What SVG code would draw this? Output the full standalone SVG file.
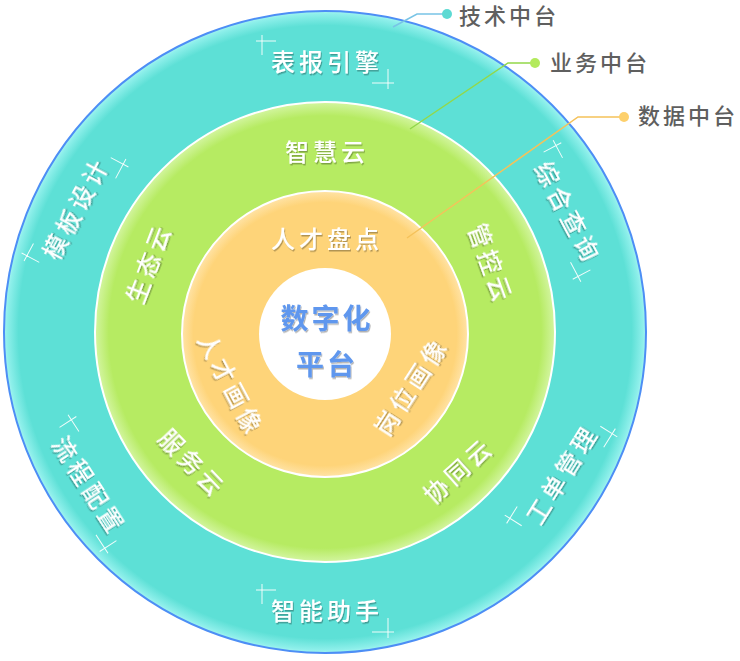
<svg xmlns="http://www.w3.org/2000/svg" width="740" height="661" viewBox="0 0 740 661">
<defs>
  <radialGradient id="gTeal" cx="50%" cy="50%" r="50%">
    <stop offset="0.955" stop-color="#5DE0D6"/>
    <stop offset="0.99" stop-color="#8DEFEA"/>
    <stop offset="1" stop-color="#A4F5F0"/>
  </radialGradient>
  <radialGradient id="gGreen" cx="50%" cy="50%" r="50%">
    <stop offset="0.94" stop-color="#B6EB62"/>
    <stop offset="1" stop-color="#D3F5A0"/>
  </radialGradient>
  <radialGradient id="gOrange" cx="50%" cy="50%" r="50%">
    <stop offset="0.92" stop-color="#FED479"/>
    <stop offset="1" stop-color="#FFE3A6"/>
  </radialGradient>
  <filter id="sh" x="-20%" y="-40%" width="140%" height="180%">
    <feDropShadow dx="1" dy="1.5" stdDeviation="0.7" flood-color="#000" flood-opacity="0.3"/>
  </filter>
  <style>
    .lbl { font-family: "Noto Sans CJK SC", "Noto Sans", sans-serif; font-size: 24px; font-weight: 500; fill: #fff; letter-spacing: 4px; text-anchor: middle; filter: url(#sh); }
    .ctr { font-family: "Noto Sans CJK SC", "Noto Sans", sans-serif; font-size: 28px; font-weight: bold; fill: #5F97EE; letter-spacing: 3px; text-anchor: middle; filter: url(#sh); }
    .leg { font-family: "Noto Sans CJK SC", "Noto Sans", sans-serif; font-size: 22px; font-weight: 500; fill: #5F5F5F; letter-spacing: 3px; }
    .cross { stroke: #fff; stroke-width: 1; fill: none; opacity: 0.9; }
    .ld { fill: none; stroke-width: 1.5; }
  </style>
</defs>

<g id="rings">
  <circle id="ring-tech" cx="325" cy="332" r="321" fill="url(#gTeal)" stroke="#4D8EF5" stroke-width="2"/>
  <circle id="ring-biz" cx="325" cy="332" r="230" fill="url(#gGreen)" stroke="#fff" stroke-width="2"/>
  <circle id="ring-data" cx="325" cy="334" r="143" fill="url(#gOrange)" stroke="#fff" stroke-width="2"/>
  <circle id="core" cx="325" cy="334" r="66" fill="#fff"/>
</g>

<g id="connectors">
  <polyline class="ld" stroke="#78C4E6" points="447,14 417,14 393,27"/>
  <circle cx="447" cy="14" r="5" fill="#5DDAD3"/>
  <polyline class="ld" stroke="#92D84A" points="535,63 508,63 410,129"/>
  <circle cx="535" cy="63" r="5" fill="#B3EA5C"/>
  <polyline class="ld" stroke="#F5C25A" points="624,117 578,117 407,238"/>
  <circle cx="624" cy="117" r="5" fill="#FDD06C"/>
</g>

<g id="legend">
  <g id="leg-tech"><text class="leg" x="459" y="24">技术中台</text></g>
  <g id="leg-biz"><text class="leg" x="550" y="71">业务中台</text></g>
  <g id="leg-data"><text class="leg" x="638" y="124">数据中台</text></g>
</g>

<g id="outer-labels">
  <g id="n-baobiao" transform="translate(325,62)">
    <path class="cross" d="M-69,-21H-49M-63,-27V-7M69,21H47M63,27V7"/>
    <text class="lbl" x="2" y="9">表报引擎</text>
  </g>
  <g id="n-zonghe" transform="translate(567,211) rotate(62)">
    <path class="cross" d="M-69,-21H-49M-63,-27V-7M69,21H47M63,27V7"/>
    <text class="lbl" x="2" y="9">综合查询</text>
  </g>
  <g id="n-gongdan" transform="translate(561,476) rotate(-58)">
    <path class="cross" d="M-69,-21H-49M-63,-27V-7M69,21H47M63,27V7"/>
    <text class="lbl" x="2" y="9">工单管理</text>
  </g>
  <g id="n-zhineng" transform="translate(325,611)">
    <path class="cross" d="M-69,-21H-49M-63,-27V-7M69,21H47M63,27V7"/>
    <text class="lbl" x="2" y="9">智能助手</text>
  </g>
  <g id="n-liucheng" transform="translate(88,484) rotate(57)">
    <path class="cross" d="M-69,-21H-49M-63,-27V-7M69,21H47M63,27V7"/>
    <text class="lbl" x="2" y="9">流程配置</text>
  </g>
  <g id="n-muban" transform="translate(75,210) rotate(-62)">
    <path class="cross" d="M-69,-21H-49M-63,-27V-7M69,21H47M63,27V7"/>
    <text class="lbl" x="2" y="9">模板设计</text>
  </g>
</g>

<g id="middle-labels">
  <g id="n-zhihui" transform="translate(325,152)"><text class="lbl" x="2" y="9">智慧云</text></g>
  <g id="n-guankong" transform="translate(490,262) rotate(70)"><text class="lbl" x="2" y="9">管控云</text></g>
  <g id="n-xietong" transform="translate(457,472) rotate(-42)"><text class="lbl" x="2" y="9">协同云</text></g>
  <g id="n-fuwu" transform="translate(191,462) rotate(46)"><text class="lbl" x="2" y="9">服务云</text></g>
  <g id="n-shengtai" transform="translate(148,265) rotate(-69)"><text class="lbl" x="2" y="9">生态云</text></g>
</g>

<g id="inner-labels">
  <g id="n-pandian" transform="translate(325,239)"><text class="lbl" x="2" y="9">人才盘点</text></g>
  <g id="n-rencai" transform="translate(230,383) rotate(62)"><text class="lbl" x="2" y="9">人才画像</text></g>
  <g id="n-gangwei" transform="translate(410,388) rotate(-57)"><text class="lbl" x="2" y="9">岗位画像</text></g>
</g>

<g id="n-center">
  <text class="ctr" x="327" y="329">数字化</text>
  <text class="ctr" x="327" y="375">平台</text>
</g>
</svg>
